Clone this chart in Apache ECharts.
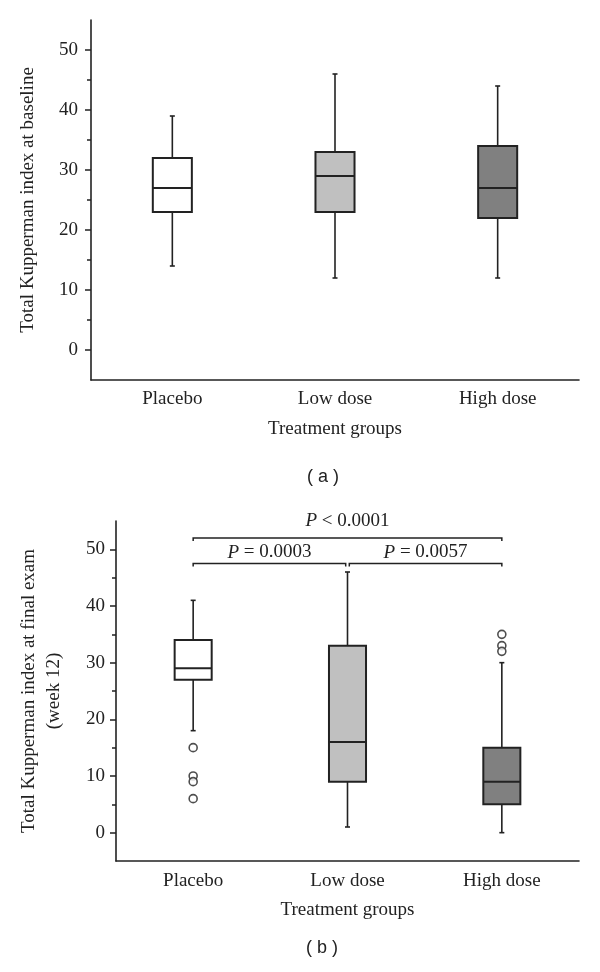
<!DOCTYPE html>
<html>
<head>
<meta charset="utf-8">
<script src="https://cdn.jsdelivr.net/npm/echarts@6/dist/echarts.min.js"></script>
<style>
html,body{margin:0;padding:0;background:#fff;}
#chart{width:600px;height:972px;}
</style>
</head>
<body>
<div id="chart"></div>
<script>
// ---- data ----
const categories = ['Placebo', 'Low dose', 'High dose'];
// [lower whisker, Q1, median, Q3, upper whisker]
const baselinePlacebo = [14, 23, 27, 32, 39];
const baselineLow = [12, 23, 29, 33, 46];
const baselineHigh = [12, 22, 27, 34, 44];
const finalPlacebo = [18, 27, 29, 34, 41];
const finalLow = [1, 9, 16, 33, 46];
const finalHigh = [0, 5, 9, 15, 30];
// outliers (final exam)
const outlierGroup = [0, 0, 0, 0, 2, 2, 2];
const outlierValue = [15, 10, 9, 6, 35, 33, 32];
// significance brackets (final exam)
const bracketFrom = [0, 0, 1];
const bracketTo = [2, 1, 2];
const bracketLevel = [52, 47.5, 47.5];
const bracketText = ['P < 0.0001', 'P = 0.0003', 'P = 0.0057'];
const yTickValues = [0, 10, 20, 30, 40, 50];
const yMinorValues = [5, 15, 25, 35, 45];
const yAxisTitleA = 'Total Kupperman index at baseline';
const yAxisTitleB = 'Total Kupperman index at final exam\n(week 12)';
const xAxisTitle = 'Treatment groups';

// ---- styles ----
const boxColors = ['#ffffff', '#c0c0c0', '#808080'];
const ink = '#222222';
const serif = '"Liberation Serif", "DejaVu Serif", serif';
const FS = 19;

const baselineData = [baselinePlacebo, baselineLow, baselineHigh].map((d, i) => [i].concat(d));
const finalData = [finalPlacebo, finalLow, finalHigh].map((d, i) => [i].concat(d));
const outlierData = outlierGroup.map((g, i) => [g, outlierValue[i]]);
const bracketData = bracketFrom.map((f, i) => [f, bracketTo[i], bracketLevel[i], i]);

function renderBox(params, api) {
  const i = api.value(0);
  const lo = api.value(1), q1 = api.value(2), med = api.value(3), q3 = api.value(4), hi = api.value(5);
  const bw = api.size([1, 0])[0] * 0.24;
  const pLo = api.coord([i, lo]), pQ1 = api.coord([i, q1]), pMed = api.coord([i, med]);
  const pQ3 = api.coord([i, q3]), pHi = api.coord([i, hi]);
  const x = pLo[0];
  const cap = 2.5;
  const ls = { stroke: ink, lineWidth: 1.6 };
  return {
    type: 'group',
    children: [
      { type: 'line', shape: { x1: x, y1: pHi[1], x2: x, y2: pQ3[1] }, style: ls },
      { type: 'line', shape: { x1: x - cap, y1: pHi[1], x2: x + cap, y2: pHi[1] }, style: ls },
      { type: 'line', shape: { x1: x, y1: pQ1[1], x2: x, y2: pLo[1] }, style: ls },
      { type: 'line', shape: { x1: x - cap, y1: pLo[1], x2: x + cap, y2: pLo[1] }, style: ls },
      { type: 'rect', shape: { x: x - bw / 2, y: pQ3[1], width: bw, height: pQ1[1] - pQ3[1] },
        style: { fill: boxColors[i], stroke: ink, lineWidth: 2 } },
      { type: 'line', shape: { x1: x - bw / 2, y1: pMed[1], x2: x + bw / 2, y2: pMed[1] },
        style: { stroke: ink, lineWidth: 2 } }
    ]
  };
}

function renderBracket(params, api) {
  const f = api.value(0), t = api.value(1), lvl = api.value(2), idx = api.value(3);
  const pf = api.coord([f, lvl]), pt = api.coord([t, lvl]);
  const adjacentGap = 1.8;
  const x1 = pf[0] + (f === 1 ? adjacentGap : 0);
  const x2 = pt[0] - (t === 1 ? adjacentGap : 0);
  const y = pf[1];
  const drop = 3;
  const ls = { stroke: ink, lineWidth: 1.5, fill: null };
  const wide = (t - f) > 1;
  return {
    type: 'group',
    children: [
      { type: 'polyline', shape: { points: [[x1, y + drop], [x1, y], [x2, y], [x2, y + drop]] }, style: ls },
      { type: 'text', x: (x1 + x2) / 2, y: y - (wide ? 17 : 11),
        style: {
          text: '{i|P}' + bracketText[idx].slice(1),
          fontFamily: serif, fontSize: FS, fill: ink,
          align: 'center', verticalAlign: 'middle',
          rich: { i: { fontStyle: 'italic', fontFamily: serif, fontSize: FS, fill: ink } }
        } }
    ]
  };
}

function xAxisCfg(gridIndex, labelMargin) {
  return {
    type: 'category', gridIndex: gridIndex, data: categories, boundaryGap: true,
    axisLine: { onZero: false, lineStyle: { color: ink, width: 1.6 } },
    axisTick: { alignWithLabel: true, inside: false, length: 6, lineStyle: { color: ink, width: 1.5 } },
    axisLabel: { color: ink, fontFamily: serif, fontSize: FS, margin: labelMargin },
    splitLine: { show: false },
    name: xAxisTitle, nameLocation: 'middle', nameGap: 40,
    nameTextStyle: { color: ink, fontFamily: serif, fontSize: FS }
  };
}
function yAxisCfg(gridIndex, name, nameGap, labelMargin) {
  return {
    type: 'value', gridIndex: gridIndex, min: -5, max: 55, position: 'left',
    axisLine: { show: true, onZero: false, lineStyle: { color: ink, width: 1.6 } },
    axisTick: { show: true, inside: false, length: 6, customValues: yTickValues, lineStyle: { color: ink, width: 1.5 } },
    axisLabel: { color: ink, fontFamily: serif, fontSize: FS, margin: labelMargin, customValues: yTickValues },
    splitLine: { show: false },
    name: name, nameLocation: 'middle', nameGap: nameGap,
    nameTextStyle: { color: ink, fontFamily: serif, fontSize: FS, lineHeight: 25 }
  };
}
function yMinorCfg(gridIndex) {
  return {
    type: 'value', gridIndex: gridIndex, min: -5, max: 55, position: 'left', offset: 0,
    axisLine: { show: false, onZero: false },
    axisTick: { show: true, inside: false, length: 4, customValues: yMinorValues, lineStyle: { color: ink, width: 1.5 } },
    axisLabel: { show: false, customValues: yMinorValues },
    splitLine: { show: false }
  };
}

const chart = echarts.init(document.getElementById('chart'), null, { renderer: 'canvas' });
chart.setOption({
  backgroundColor: '#ffffff',
  animation: false,
  grid: [
    { left: 91, right: 21, top: 20, height: 360 },
    { left: 116, right: 21, top: 521, height: 340 }
  ],
  xAxis: [xAxisCfg(0, 10), xAxisCfg(1, 11)],
  yAxis: [
    yAxisCfg(0, yAxisTitleA, 50, 13),
    yMinorCfg(0),
    yAxisCfg(1, yAxisTitleB, 49, 11),
    yMinorCfg(1)
  ],
  graphic: [
    { type: 'text', left: 307, top: 468, style: { text: '( a )', fontFamily: '"Liberation Sans", Arial, sans-serif', fontSize: 18, fill: ink } },
    { type: 'text', left: 306, top: 939, style: { text: '( b )', fontFamily: '"Liberation Sans", Arial, sans-serif', fontSize: 18, fill: ink } }
  ],
  series: [
    { type: 'custom', xAxisIndex: 0, yAxisIndex: 0, data: baselineData, renderItem: renderBox, encode: { x: 0, y: [1, 5] }, clip: false, z: 3 },
    { type: 'custom', xAxisIndex: 1, yAxisIndex: 2, data: finalData, renderItem: renderBox, encode: { x: 0, y: [1, 5] }, clip: false, z: 3 },
    { type: 'scatter', xAxisIndex: 1, yAxisIndex: 2, data: outlierData, symbol: 'circle', symbolSize: 8,
      itemStyle: { color: '#ffffff', borderColor: ink, borderWidth: 1.6 }, z: 4 },
    { type: 'custom', xAxisIndex: 1, yAxisIndex: 2, data: bracketData, renderItem: renderBracket, encode: { x: 0, y: 2 }, clip: false, z: 5 }
  ]
});
</script>
</body>
</html>
